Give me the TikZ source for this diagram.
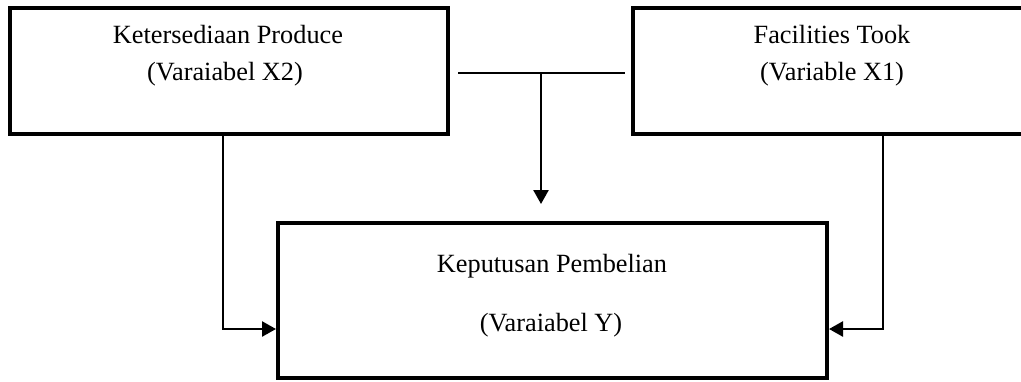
\documentclass[tikz,border=0pt]{standalone}
\usepackage{fontspec}
\setmainfont{Liberation Serif}
\usetikzlibrary{arrows.meta}
\begin{document}
\begin{tikzpicture}[x=1pt,y=-1pt,
  box/.style={draw,line width=4pt,inner sep=0pt},
  txt/.style={font=\fontsize{26.3}{30}\selectfont,anchor=base,inner sep=0pt},
  link/.style={line width=2.5pt},
  arr/.style={link,-{Triangle[length=14pt,width=15pt]}}]
\useasboundingbox (0,0) rectangle (1021,381);

% variable boxes
\node[box,minimum width=438pt,minimum height=126pt] (L) at (229,71) {};
\node[box,minimum width=402pt,minimum height=126pt] (R) at (834,71) {};
\node[box,minimum width=549pt,minimum height=155pt] (Y) at (552.5,300.5) {};

% box captions
\node[txt] (l1) at (228,43) {Ketersediaan Produce};
\node[txt] (l2) at (225,80) {(Varaiabel X2)};
\node[txt] (r1) at (832,43) {Facilities Took};
\node[txt] (r2) at (832,80) {(Variable X1)};
\node[txt] (y1) at (552,272) {Keputusan Pembelian};
\node[txt] (y2) at (551,331) {(Varaiabel Y)};

% routing points
\coordinate (lx) at (223,329);
\coordinate (rx) at (883,329);
\coordinate (ja) at (458,73);
\coordinate (jb) at (625,73);
\coordinate (jm) at (541,73);
\coordinate (tip) at (541,204);

% direct effects
\draw[arr] (L.south -| lx) |- (Y.west |- lx);
\draw[arr] (R.south -| rx) |- (Y.east |- rx);

% joint effect
\draw[link] (ja) -- (jb);
\draw[arr] (jm) -- (tip);
\end{tikzpicture}
\end{document}
